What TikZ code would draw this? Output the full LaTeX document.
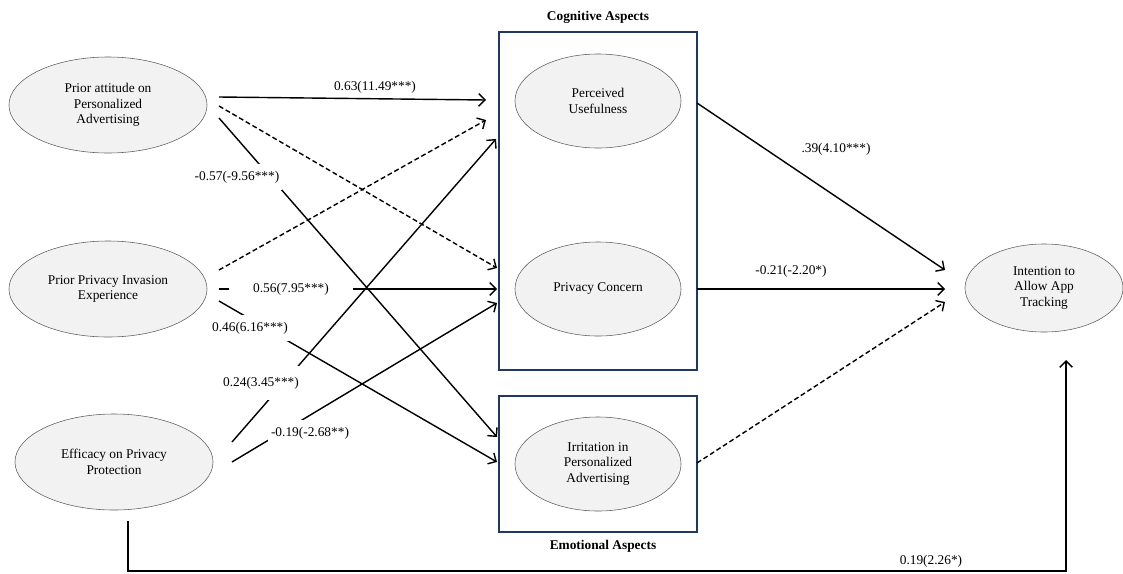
\documentclass[tikz,border=0pt]{standalone}
\usepackage{fontspec}
\setmainfont{Liberation Serif}
\usetikzlibrary{arrows.meta,shapes.geometric}

\definecolor{boxblue}{RGB}{31,56,100}
\definecolor{ellfill}{RGB}{242,242,242}
\definecolor{ellline}{RGB}{95,95,95}

\tikzset{%
  every construct/.style={
    ellipse,
    draw=ellline,
    fill=ellfill,
    align=center,
    inner sep=0pt,
    font=\fontsize{9.5}{11.2}\selectfont
  },
  construct wide/.style={
    minimum width=4.95cm,
    minimum height=2.4cm
  },
  construct mid/.style={
    minimum width=4.15cm,
    minimum height=2.35cm
  },
  construct out/.style={
    minimum width=3.95cm,
    minimum height=2.2cm
  },
  aspect box/.style={
    draw=boxblue,
    line width=1.6pt,
    minimum width=4.95cm
  },
  aspect label/.style={
    font=\fontsize{9.5}{11}\selectfont\bfseries
  },
  coef/.style={
    font=\fontsize{9.5}{11}\selectfont,
    inner xsep=2pt,
    inner ysep=1pt
  },
  coef cut/.style={
    coef,
    fill=white,
    inner ysep=5pt
  },
  path/.style={
    line width=1pt,
    -{Straight Barb[length=4.5pt,width=9pt]}
  },
  path ns/.style={
    path,
    dash pattern=on 3.5pt off 2pt
  },
}

\begin{document}
\begin{tikzpicture}[x=0.025cm,y=-0.025cm]
\useasboundingbox (0,0) rectangle (1123,573);

% aspect boxes
\node [aspect box, minimum height=8.45cm] (cog-box) at (598,201) {};
\node [aspect box, minimum height=3.4cm] (emo-box) at (598,464) {};
\node [aspect label] (cog-label) at (598,17) {Cognitive Aspects};
\node [aspect label] (emo-label) at (603,546) {Emotional Aspects};

% constructs
\node [every construct, construct wide] (pa) at (108,105)
  {Prior attitude on\\Personalized\\Advertising};
\node [every construct, construct wide] (pi) at (108,289)
  {Prior Privacy Invasion\\Experience};
\node [every construct, construct wide] (ep) at (114,462)
  {Efficacy on Privacy\\Protection};
\node [every construct, construct mid] (pu) at (598,101)
  {Perceived\\Usefulness};
\node [every construct, construct mid] (pc) at (598,289)
  {Privacy Concern};
\node [every construct, construct mid] (ir) at (598,464)
  {Irritation in\\Personalized\\Advertising};
\node [every construct, construct out] (in) at (1044,288)
  {Intention to\\Allow App\\Tracking};

% arrow ends
\foreach \n/\x/\y in {pa-o1/219/97, pa-o2/219/106, pa-o3/219/118,
    pi-o1/219/270, pi-o2/219/289, pi-o3/219/301,
    ep-o1/232/442, ep-o2/232/462, ep-o3/128/521,
    pu-i1/486/100, pu-i2/486/120, pu-i3/496/139,
    pc-i1/497/268, pc-i2/497/289, pc-i3/497/303,
    ir-i1/497/437, ir-i2/497/462,
    pu-o/697/103, pc-o/697/289, ir-o/697/463,
    in-i1/945/270, in-i2/945/289, in-i3/945/302, in-i4/1066/360}
  \coordinate (\n) at (\x,\y);

\foreach \a/\b in {pa-o1/pu-i1, pa-o3/ir-i1, pi-o2/pc-i2, pi-o3/ir-i2,
    ep-o1/pu-i3, ep-o2/pc-i3, pu-o/in-i1, pc-o/in-i2}
  \draw [path] (\a) -- (\b);

\foreach \a/\b in {pa-o2/pc-i1, pi-o1/pu-i2, ir-o/in-i3}
  \draw [path ns] (\a) -- (\b);

\draw [path] (ep-o3) |- (in-i4 |- 0,571) -- (in-i4);

% coefficients
\node [coef] (c-pa-pu) at (375,87) {0.63(11.49***)};
\node [coef cut] (c-pa-ir) at (237,177) {-0.57(-9.56***)};
\node [coef cut, inner xsep=17pt] (c-pi-pc) at (291,289) {0.56(7.95***)};
\node [coef cut] (c-pi-ir) at (250,328) {0.46(6.16***)};
\node [coef cut, inner ysep=8pt] (c-ep-pu) at (261,383) {0.24(3.45***)};
\node [coef cut] (c-ep-pc) at (310,433) {-0.19(-2.68**)};
\node [coef] (c-pu-in) at (836,149) {.39(4.10***)};
\node [coef] (c-pc-in) at (791,271) {-0.21(-2.20*)};
\node [coef] (c-ep-in) at (931,561) {0.19(2.26*)};

\end{tikzpicture}
\end{document}
